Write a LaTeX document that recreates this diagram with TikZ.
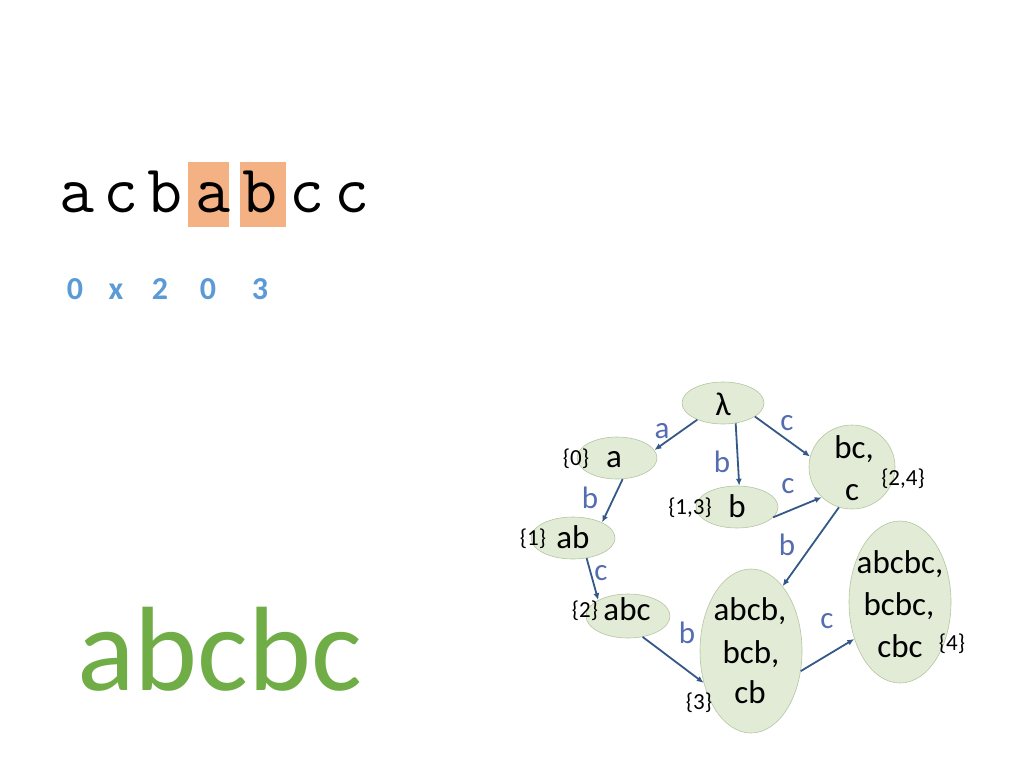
\documentclass[tikz,border=0pt]{standalone}
\usepackage{fontspec}
\setmainfont{Carlito}
\usetikzlibrary{shapes.geometric,arrows.meta}
\definecolor{nodefill}{RGB}{226,235,214}
\definecolor{nodeline}{RGB}{180,198,160}
\definecolor{edgecol}{RGB}{52,88,135}
\definecolor{labcol}{RGB}{84,108,176}
\definecolor{digcol}{RGB}{91,155,213}
\definecolor{hilite}{RGB}{244,177,131}
\definecolor{bigg}{RGB}{112,173,71}
\tikzset{
  st/.style={ellipse,draw=nodeline,fill=nodefill,line width=0.6pt,inner sep=0pt},
  txt/.style={anchor=base,inner sep=0pt,font=\fontsize{33}{38}\selectfont},
  setl/.style={anchor=base,inner sep=0pt,font=\fontsize{23}{27}\selectfont},
  elab/.style={anchor=base,inner sep=0pt,text=labcol,font=\fontsize{31}{36}\selectfont},
  edge/.style={draw=edgecol,line width=1.8pt,-{Latex[length=7pt,width=6pt]}},
  mono/.style={anchor=base,inner sep=0pt,font=\ttfamily\fontsize{68}{72}\selectfont},
  dig/.style={anchor=base,inner sep=0pt,text=digcol,font=\bfseries\fontsize{32}{36}\selectfont}
}
\begin{document}
\begin{tikzpicture}[x=1pt,y=-1pt]
\useasboundingbox (0,0) rectangle (1024,768);
% highlighted string
\fill[hilite] (188,162) rectangle (229,227);
\fill[hilite] (240,162) rectangle (286,227);
\foreach \ch/\xx [count=\i] in {a/77,c/121,b/165,a/213,b/260,c/307,c/352}{
  \node[mono] (m\i) at (\xx,212) {\ch};
}
% digits
\node[dig] (d1) at (75,299) {0};
\node[dig] (d2) at (116,299) {x};
\node[dig] (d3) at (160,299) {2};
\node[dig] (d4) at (208,299) {0};
\node[dig] (d5) at (260,299) {3};
% big word
\node[anchor=base,inner sep=0pt,text=bigg,font=\fontsize{120}{130}\selectfont] (big) at (220,690) {abcbc};
% states
\node[st,minimum width=82pt,minimum height=42pt] (lam) at (723,403) {};
\node[st,minimum width=80pt,minimum height=42pt] (a) at (617,458) {};
\node[st,minimum width=82pt,minimum height=42pt] (b) at (737,507) {};
\node[st,minimum width=86pt,minimum height=84pt] (bc) at (852,467) {};
\node[st,minimum width=84pt,minimum height=42pt] (ab) at (573,538) {};
\node[st,minimum width=84pt,minimum height=44pt] (abc) at (628,616) {};
\node[st,minimum width=102pt,minimum height=164pt] (abcb) at (751,651) {};
\node[st,minimum width=102pt,minimum height=162pt] (abcbc) at (900,602) {};
% state texts
\node[txt] (tlam) at (723,415) {λ};
\node[txt] (ta) at (614,467) {a};
\node[setl] (s0) at (576,465) {\{0\}};
\node[txt] (tb) at (737,517) {b};
\node[setl] (s13) at (690,514) {\{1,3\}};
\node[txt] (tbc1) at (854,458) {bc,};
\node[txt] (tbc2) at (852,500) {c};
\node[setl] (s24) at (903,485) {\{2,4\}};
\node[txt] (tab) at (573,548) {ab};
\node[setl] (s1) at (533,545) {\{1\}};
\node[txt] (tabc) at (627,620) {abc};
\node[setl] (s2) at (585,617) {\{2\}};
\node[txt] (tabcb1) at (750,620) {abcb,};
\node[txt] (tabcb2) at (751,663) {bcb,};
\node[txt] (tabcb3) at (750,703) {cb};
\node[setl] (s3) at (699,709) {\{3\}};
\node[txt] (tabcbc1) at (900,573) {abcbc,};
\node[txt] (tabcbc2) at (899,615) {bcbc,};
\node[txt] (tabcbc3) at (900,657) {cbc};
\node[setl] (s4) at (952,650) {\{4\}};
% edges
\draw[edge] (lam.213) -- (a.12);
\draw[edge] (lam.302) -- (b.84);
\draw[edge] (lam.337) -- (bc.166);
\draw[edge] (b.344) -- (bc.225);
\draw[edge] (bc.252) -- (abcb.64);
\draw[edge] (a.285) -- (ab.28);
\draw[edge] (ab.304) -- (abc.152);
\draw[edge] (abc.305) -- (abcb.214);
\draw[edge] (abcb.338) -- (abcbc.219);
% edge labels
\node[elab] (la) at (662,438) {a};
\node[elab] (lb1) at (722,472) {b};
\node[elab] (lc1) at (787,430) {c};
\node[elab] (lc2) at (788,493) {c};
\node[elab] (lb2) at (787,555) {b};
\node[elab] (lb3) at (590,508) {b};
\node[elab] (lc3) at (601,580) {c};
\node[elab] (lb4) at (687,643) {b};
\node[elab] (lc4) at (827,628) {c};
\end{tikzpicture}
\end{document}
